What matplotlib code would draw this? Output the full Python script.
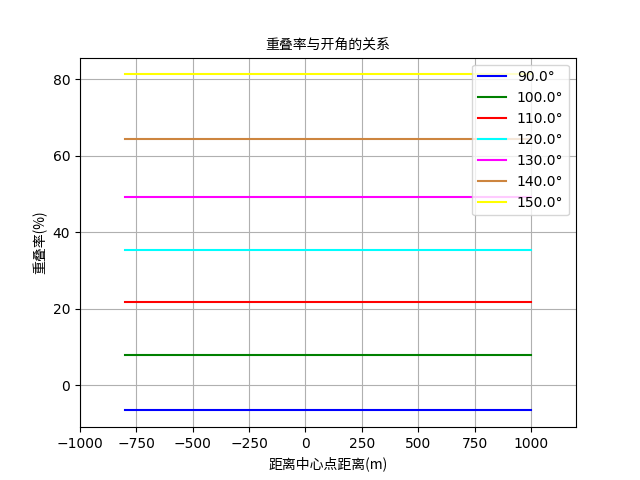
import numpy as np
import matplotlib
matplotlib.use("Agg")
import matplotlib.pyplot as plt

plt.rcParams['font.family'] = ['Noto Sans CJK SC', 'DejaVu Sans']

angles = [90.0, 100.0, 110.0, 120.0, 130.0, 140.0, 150.0]
overlap = [-6.6, 7.8, 21.7, 35.3, 49.2, 64.4, 81.3]
colors = ['blue', 'green', 'red', 'cyan', 'magenta', 'peru', 'yellow']

# distance range from center
dist = [-800, 1000]

fig, ax = plt.subplots(figsize=(6.4, 4.8), dpi=100)
for ang, val, c in zip(angles, overlap, colors):
    ax.plot(dist, [val, val], color=c, label=f"{ang}°")

ax.set_xlim(-1000, 1200)
ax.set_xticks(np.arange(-1000, 1001, 250))
ax.tick_params(labelsize=10)
for lbl in ax.get_xticklabels() + ax.get_yticklabels():
    lbl.set_family('DejaVu Sans')
ax.set_title("重叠率与开角的关系", fontsize=10)
ax.set_xlabel("距离中心点距离(m)", fontsize=10)
ax.set_ylabel("重叠率(%)", fontsize=10)
ax.grid(True)
leg = ax.legend(loc='upper right', prop={'family': 'DejaVu Sans', 'size': 10})

fig.savefig("out.png", dpi=100)
